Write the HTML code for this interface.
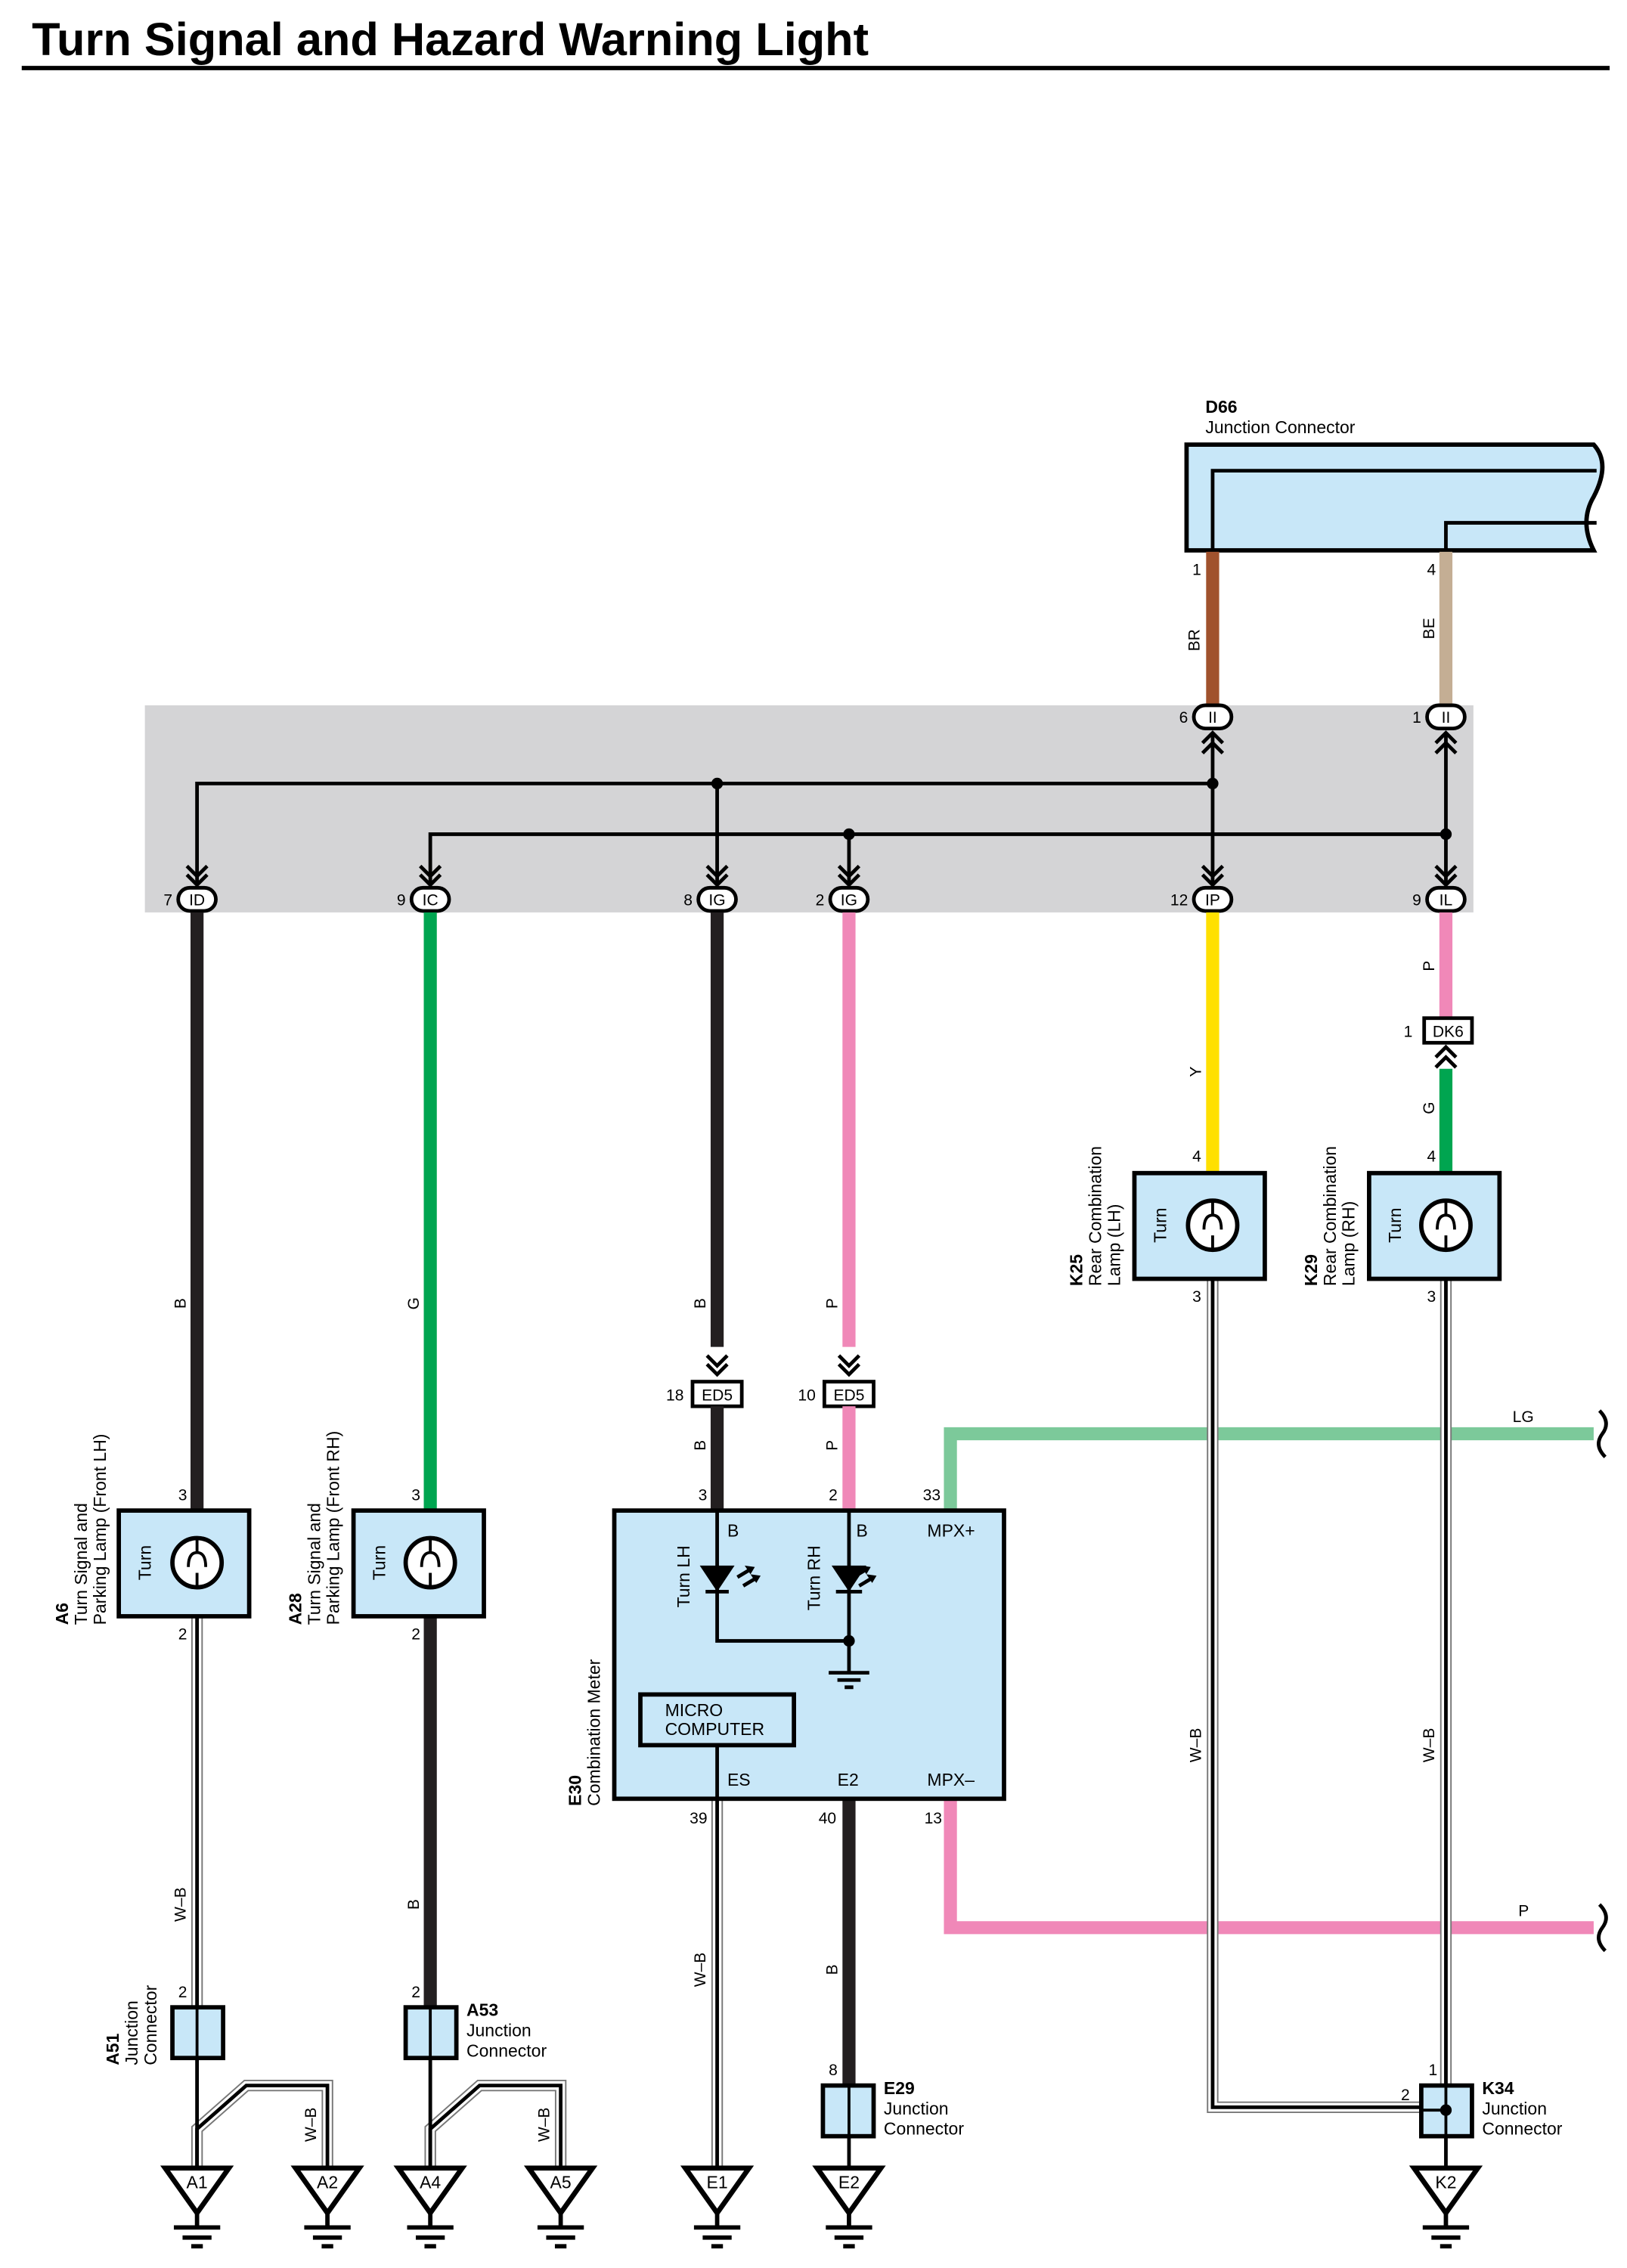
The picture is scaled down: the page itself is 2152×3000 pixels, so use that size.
<!DOCTYPE html>
<html><head><meta charset="utf-8"><style>html,body{margin:0;padding:0;background:#fff}svg{display:block}</style></head><body>
<svg width="2152" height="3000" viewBox="0 0 1123 1566" preserveAspectRatio="none" xmlns="http://www.w3.org/2000/svg" font-family="Liberation Sans, sans-serif">
<rect width="1123" height="1566" fill="#fff"/>
<text x="22" y="38" font-size="32" font-weight="bold">Turn Signal and Hazard Warning Light</text>
<line x1="15" y1="47" x2="1111" y2="47" stroke="#000" stroke-width="3"/>

<!-- D66 -->
<text x="832" y="285" font-size="12" font-weight="bold">D66</text>
<text x="832" y="299" font-size="12">Junction Connector</text>
<path d="M819 307 H1100 Q1112 320 1100 343 Q1090 360 1100 380 H819 Z" fill="#c8e7f8" stroke="#000" stroke-width="3"/>
<path d="M837 380 V325 H1102 M998 380 V361 H1102" fill="none" stroke="#000" stroke-width="2.5"/>
<text x="823" y="397" font-size="11">1</text><text x="985" y="397" font-size="11">4</text>
<line x1="837" y1="381" x2="837" y2="487" stroke="#a0522d" stroke-width="9"/>
<line x1="998" y1="381" x2="998" y2="487" stroke="#c4ae94" stroke-width="9"/>
<text transform="translate(828,442) rotate(-90)" font-size="11" text-anchor="middle">BR</text>
<text transform="translate(990,434) rotate(-90)" font-size="11" text-anchor="middle">BE</text>

<!-- gray band -->
<rect x="100" y="487" width="917" height="143" fill="#d4d4d6"/>
<g fill="none" stroke="#000" stroke-width="2.5">
<path d="M136 610 V541 H837 M495 541 V610 M837 506 V610 M297 610 V576 H998 M586 576 V610 M998 506 V610"/>
<path d="M830 513 L837 506 L844 513 M830 520 L837 513 L844 520 M991 513 L998 506 L1005 513 M991 520 L998 513 L1005 520"/>
</g>
<g fill="none" stroke="#000" stroke-width="2.5">
<path d="M129 598 L136 605 L143 598 M129 604 L136 611 L143 604"/>
<path d="M290 598 L297 605 L304 598 M290 604 L297 611 L304 604"/>
<path d="M488 598 L495 605 L502 598 M488 604 L495 611 L502 604"/>
<path d="M579 598 L586 605 L593 598 M579 604 L586 611 L593 604"/>
<path d="M830 598 L837 605 L844 598 M830 604 L837 611 L844 604"/>
<path d="M991 598 L998 605 L1005 598 M991 604 L998 611 L1005 604"/>
</g>
<g fill="#000"><circle cx="495" cy="541" r="4"/><circle cx="837" cy="541" r="4"/><circle cx="586" cy="576" r="4"/><circle cx="998" cy="576" r="4"/></g>
<g fill="#fff" stroke="#000" stroke-width="2.5">
<rect x="824" y="487" width="26" height="16" rx="8"/><rect x="985" y="487" width="26" height="16" rx="8"/>
<rect x="123" y="613" width="26" height="16" rx="8"/><rect x="284" y="613" width="26" height="16" rx="8"/>
<rect x="482" y="613" width="26" height="16" rx="8"/><rect x="573" y="613" width="26" height="16" rx="8"/>
<rect x="824" y="613" width="26" height="16" rx="8"/><rect x="985" y="613" width="26" height="16" rx="8"/>
</g>
<g font-size="11" text-anchor="middle">
<text x="837" y="499">II</text><text x="998" y="499">II</text>
<text x="136" y="625">ID</text><text x="297" y="625">IC</text><text x="495" y="625">IG</text><text x="586" y="625">IG</text><text x="837" y="625">IP</text><text x="998" y="625">IL</text>
</g>
<g font-size="11" text-anchor="end">
<text x="820" y="499">6</text><text x="981" y="499">1</text>
<text x="119" y="625">7</text><text x="280" y="625">9</text><text x="478" y="625">8</text><text x="569" y="625">2</text><text x="820" y="625">12</text><text x="981" y="625">9</text>
</g>

<line x1="136" y1="630" x2="136" y2="1043" stroke="#231f20" stroke-width="9"/>
<line x1="297" y1="630" x2="297" y2="1043" stroke="#00a550" stroke-width="9"/>
<line x1="495" y1="630" x2="495" y2="930" stroke="#231f20" stroke-width="9"/>
<line x1="586" y1="630" x2="586" y2="930" stroke="#f088b8" stroke-width="9"/>
<line x1="837" y1="630" x2="837" y2="810" stroke="#ffe000" stroke-width="9"/>
<line x1="998" y1="630" x2="998" y2="703" stroke="#f088b8" stroke-width="9"/>
<line x1="998" y1="738" x2="998" y2="810" stroke="#00a550" stroke-width="9"/>
<g font-size="11" text-anchor="middle">
<text transform="translate(128,900) rotate(-90)">B</text>
<text transform="translate(289,900) rotate(-90)">G</text>
<text transform="translate(487,900) rotate(-90)">B</text>
<text transform="translate(578,900) rotate(-90)">P</text>
<text transform="translate(829,740) rotate(-90)">Y</text>
<text transform="translate(990,667) rotate(-90)">P</text>
<text transform="translate(990,765) rotate(-90)">G</text>
<text transform="translate(487,998) rotate(-90)">B</text>
<text transform="translate(578,998) rotate(-90)">P</text>
<text transform="translate(128,1315) rotate(-90)">W–B</text>
<text transform="translate(289,1315) rotate(-90)">B</text>
<text transform="translate(487,1360) rotate(-90)">W–B</text>
<text transform="translate(578,1360) rotate(-90)">B</text>
<text transform="translate(829,1205) rotate(-90)">W–B</text>
<text transform="translate(990,1205) rotate(-90)">W–B</text>
<text transform="translate(218,1467) rotate(-90)">W–B</text>
<text transform="translate(379,1467) rotate(-90)">W–B</text>
</g>

<rect x="983" y="703" width="33" height="17" fill="#fff" stroke="#000" stroke-width="2.5"/>
<text x="999.5" y="716" font-size="11" text-anchor="middle">DK6</text><text x="975" y="716" font-size="11" text-anchor="end">1</text>
<path d="M991 730 L998 723 L1005 730 M991 737 L998 730 L1005 737" fill="none" stroke="#000" stroke-width="2.5"/>

<path d="M488 936 L495 943 L502 936 M488 942 L495 949 L502 942 M579 936 L586 943 L593 936 M579 942 L586 949 L593 942" fill="none" stroke="#000" stroke-width="2.5"/>
<rect x="478" y="954" width="34" height="17" fill="#fff" stroke="#000" stroke-width="2.5"/>
<rect x="569" y="954" width="34" height="17" fill="#fff" stroke="#000" stroke-width="2.5"/>
<g font-size="11"><text x="495" y="967" text-anchor="middle">ED5</text><text x="586" y="967" text-anchor="middle">ED5</text>
<text x="472" y="967" text-anchor="end">18</text><text x="563" y="967" text-anchor="end">10</text></g>
<line x1="495" y1="971" x2="495" y2="1043" stroke="#231f20" stroke-width="9"/>
<line x1="586" y1="971" x2="586" y2="1043" stroke="#f088b8" stroke-width="9"/>

<path d="M656 1043 V990 H1100" fill="none" stroke="#7cc99a" stroke-width="9"/>
<path d="M656 1242 V1331 H1100" fill="none" stroke="#f088b8" stroke-width="9"/>
<path d="M1104 974 Q1112 982 1106 990 Q1100 998 1108 1006 M1104 1315 Q1112 1323 1106 1331 Q1100 1339 1108 1347" fill="none" stroke="#000" stroke-width="2.5"/>
<text x="1044" y="982" font-size="11">LG</text><text x="1048" y="1323" font-size="11">P</text>

<g fill="none" stroke-linejoin="miter">
<path d="M136 1116 V1386 M837 883 V1455 H981 M998 883 V1440 M226 1497 V1440 H170 L136 1470 V1497 M387 1497 V1440 H331 L297 1470 V1497 M495 1242 V1497" stroke="#777" stroke-width="8"/>
<path d="M136 1116 V1386 M837 883 V1455 H981 M998 883 V1440 M226 1497 V1440 H170 L136 1470 V1497 M387 1497 V1440 H331 L297 1470 V1497 M495 1242 V1497" stroke="#fff" stroke-width="6"/>
<path d="M136 1116 V1386 M837 883 V1455 H981 M998 883 V1440 M226 1497 V1440 H170 L136 1470 V1497 M387 1497 V1440 H331 L297 1470 V1497 M495 1242 V1497" stroke="#000" stroke-width="2.5"/>
</g>
<line x1="297" y1="1116" x2="297" y2="1386" stroke="#231f20" stroke-width="9"/>
<line x1="586" y1="1242" x2="586" y2="1440" stroke="#231f20" stroke-width="9"/>
<g stroke="#000" stroke-width="2.5"><line x1="136" y1="1421" x2="136" y2="1497"/><line x1="297" y1="1421" x2="297" y2="1497"/><line x1="586" y1="1475" x2="586" y2="1497"/><line x1="998" y1="1475" x2="998" y2="1497"/></g>

<g fill="#c8e7f8" stroke="#000" stroke-width="3">
<rect x="82" y="1043" width="90" height="73"/><rect x="244" y="1043" width="90" height="73"/>
<rect x="783" y="810" width="90" height="73"/><rect x="945" y="810" width="90" height="73"/>
</g>
<g fill="#fff" stroke="#000" stroke-width="3">
<circle cx="136" cy="1079" r="17"/><circle cx="297" cy="1079" r="17"/><circle cx="837" cy="846" r="17"/><circle cx="998" cy="846" r="17"/>
</g>
<g fill="none" stroke="#000" stroke-width="2">
<path d="M136 1062 V1072 M130 1082 Q130 1072 136 1072 Q142 1072 142 1082 M136 1086 V1096"/>
<path d="M297 1062 V1072 M291 1082 Q291 1072 297 1072 Q303 1072 303 1082 M297 1086 V1096"/>
<path d="M837 829 V839 M831 849 Q831 839 837 839 Q843 839 843 849 M837 853 V863"/>
<path d="M998 829 V839 M992 849 Q992 839 998 839 Q1004 839 1004 849 M998 853 V863"/>
</g>
<g font-size="12" text-anchor="middle">
<text transform="translate(104,1079) rotate(-90)">Turn</text><text transform="translate(266,1079) rotate(-90)">Turn</text>
<text transform="translate(805,846) rotate(-90)">Turn</text><text transform="translate(967,846) rotate(-90)">Turn</text>
</g>
<g font-size="11">
<text x="123" y="1036">3</text><text x="123" y="1132">2</text><text x="284" y="1036">3</text><text x="284" y="1132">2</text>
<text x="823" y="802">4</text><text x="823" y="899">3</text><text x="985" y="802">4</text><text x="985" y="899">3</text>
<text x="482" y="1036">3</text><text x="572" y="1036">2</text><text x="637" y="1036">33</text>
<text x="476" y="1259">39</text><text x="565" y="1259">40</text><text x="638" y="1259">13</text>
<text x="123" y="1379">2</text><text x="284" y="1379">2</text><text x="572" y="1433">8</text>
<text x="986" y="1433">1</text><text x="967" y="1450">2</text>
</g>
<g font-size="12">
<text transform="translate(47,1122) rotate(-90)" font-weight="bold">A6</text>
<text transform="translate(60,1122) rotate(-90)">Turn Signal and</text>
<text transform="translate(73,1122) rotate(-90)">Parking Lamp (Front LH)</text>
<text transform="translate(208,1122) rotate(-90)" font-weight="bold">A28</text>
<text transform="translate(221,1122) rotate(-90)">Turn Signal and</text>
<text transform="translate(234,1122) rotate(-90)">Parking Lamp (Front RH)</text>
<text transform="translate(747,888) rotate(-90)" font-weight="bold">K25</text>
<text transform="translate(760,888) rotate(-90)">Rear Combination</text>
<text transform="translate(773,888) rotate(-90)">Lamp (LH)</text>
<text transform="translate(909,888) rotate(-90)" font-weight="bold">K29</text>
<text transform="translate(922,888) rotate(-90)">Rear Combination</text>
<text transform="translate(935,888) rotate(-90)">Lamp (RH)</text>
<text transform="translate(401,1247) rotate(-90)" font-weight="bold">E30</text>
<text transform="translate(414,1247) rotate(-90)">Combination Meter</text>
<text transform="translate(82,1426) rotate(-90)" font-weight="bold">A51</text>
<text transform="translate(95,1426) rotate(-90)">Junction</text>
<text transform="translate(108,1426) rotate(-90)">Connector</text>
<text x="322" y="1392" font-weight="bold">A53</text><text x="322" y="1406">Junction</text><text x="322" y="1420">Connector</text>
<text x="610" y="1446" font-weight="bold">E29</text><text x="610" y="1460">Junction</text><text x="610" y="1474">Connector</text>
<text x="1023" y="1446" font-weight="bold">K34</text><text x="1023" y="1460">Junction</text><text x="1023" y="1474">Connector</text>
</g>

<rect x="424" y="1043" width="269" height="199" fill="#c8e7f8" stroke="#000" stroke-width="3"/>
<g fill="none" stroke="#000" stroke-width="2.5">
<path d="M495 1043 V1133 H586 M586 1043 V1155"/>
<path d="M572 1155 H600 M578 1160 H594 M583 1165 H589"/>
<path d="M487 1099 H503 M577 1099 H595"/>
<path d="M509 1089 L519 1083 M513 1095 L523 1089 M589 1089 L599 1083 M593 1095 L603 1089"/>
</g>
<g fill="#000">
<polygon points="483,1081 507,1081 495,1099"/><polygon points="574,1081 598,1081 586,1099"/>
<polygon points="521,1082 514,1081 518,1087"/><polygon points="525,1088 518,1087 522,1093"/>
<polygon points="601,1082 594,1081 598,1087"/><polygon points="605,1088 598,1087 602,1093"/>
<circle cx="586" cy="1133" r="4"/>
</g>
<rect x="442" y="1170" width="106" height="35" fill="#c8e7f8" stroke="#000" stroke-width="3"/>
<line x1="495" y1="1205" x2="495" y2="1242" stroke="#000" stroke-width="2.5"/>
<g font-size="12">
<text x="459" y="1185">MICRO</text><text x="459" y="1198">COMPUTER</text>
<text x="502" y="1061">B</text><text x="591" y="1061">B</text><text x="640" y="1061">MPX+</text>
<text x="502" y="1233">ES</text><text x="578" y="1233">E2</text><text x="640" y="1233">MPX–</text>
<text transform="translate(476,1110) rotate(-90)">Turn LH</text>
<text transform="translate(566,1112) rotate(-90)">Turn RH</text>
</g>

<g fill="#c8e7f8" stroke="#000" stroke-width="3">
<rect x="119" y="1386" width="35" height="35"/><rect x="280" y="1386" width="35" height="35"/>
<rect x="568" y="1440" width="35" height="35"/><rect x="981" y="1440" width="35" height="35"/>
</g>
<g stroke="#000" stroke-width="2"><line x1="136" y1="1386" x2="136" y2="1421"/><line x1="297" y1="1386" x2="297" y2="1421"/><line x1="586" y1="1440" x2="586" y2="1475"/><line x1="998" y1="1440" x2="998" y2="1475"/><line x1="981" y1="1457" x2="998" y2="1457"/></g>
<circle cx="998" cy="1457" r="4"/>

<g fill="#fff" stroke="#000" stroke-width="3.5">
<polygon points="114,1497 158,1497 136,1528"/><polygon points="204,1497 248,1497 226,1528"/>
<polygon points="275,1497 319,1497 297,1528"/><polygon points="365,1497 409,1497 387,1528"/>
<polygon points="473,1497 517,1497 495,1528"/><polygon points="564,1497 608,1497 586,1528"/>
<polygon points="976,1497 1020,1497 998,1528"/>
</g>
<g stroke="#000" stroke-width="3">
<path d="M136 1528 V1538 M120 1538 H152 M126 1545 H146 M132 1551 H140"/>
<path d="M226 1528 V1538 M210 1538 H242 M216 1545 H236 M222 1551 H230"/>
<path d="M297 1528 V1538 M281 1538 H313 M287 1545 H307 M293 1551 H301"/>
<path d="M387 1528 V1538 M371 1538 H403 M377 1545 H397 M383 1551 H391"/>
<path d="M495 1528 V1538 M479 1538 H511 M485 1545 H505 M491 1551 H499"/>
<path d="M586 1528 V1538 M570 1538 H602 M576 1545 H596 M582 1551 H590"/>
<path d="M998 1528 V1538 M982 1538 H1014 M988 1545 H1008 M994 1551 H1002"/>
</g>
<g font-size="12" text-anchor="middle">
<text x="136" y="1511">A1</text><text x="226" y="1511">A2</text><text x="297" y="1511">A4</text><text x="387" y="1511">A5</text>
<text x="495" y="1511">E1</text><text x="586" y="1511">E2</text><text x="998" y="1511">K2</text>
</g>
</svg>
</body></html>
